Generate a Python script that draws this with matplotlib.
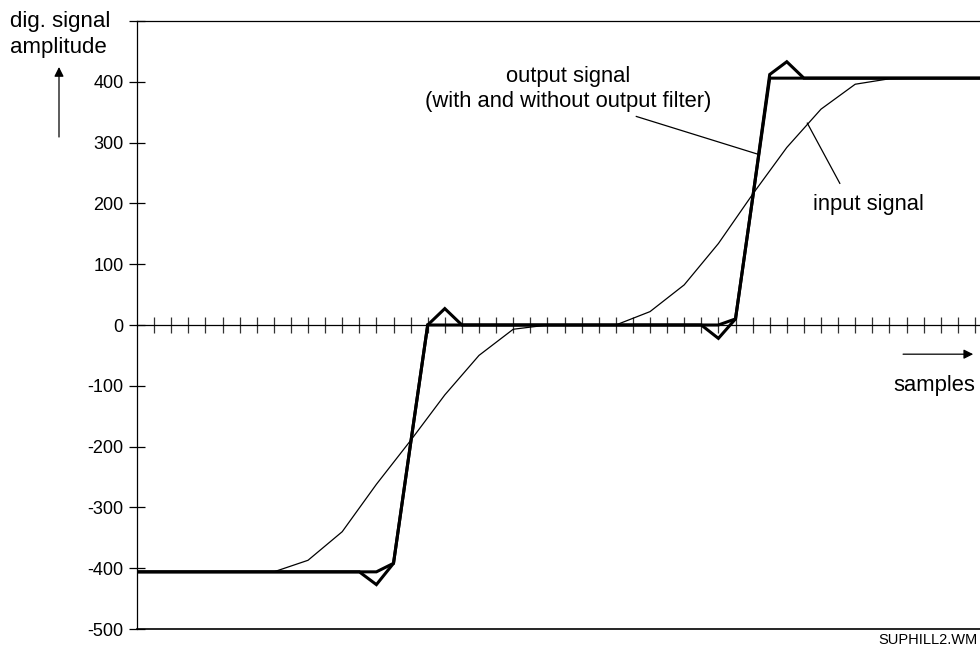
import matplotlib.pyplot as plt
import numpy as np

plt.rcParams['font.family'] = ['Liberation Sans', 'DejaVu Sans']

# sample index of every output value
out_n = list(range(51))
out_plain = [-406, -406, -406, -406, -406, -406, -406, -406, -406, -406,
             -406, -406, -406, -406, -406, -392, -195, 0, 0, 0,
             0, 0, 0, 0, 0, 0, 0, 0, 0, 0,
             0, 0, 0, 0, 0, 10, 208, 406, 406, 406,
             406, 406, 406, 406, 406, 406, 406, 406, 406, 406, 406]
out_filt = [-406, -406, -406, -406, -406, -406, -406, -406, -406, -406,
            -406, -406, -406, -406, -427, -392, -195, 0, 27, 0,
            0, 0, 0, 0, 0, 0, 0, 0, 0, 0,
            0, 0, 0, 0, -22, 10, 208, 412, 433, 406,
            406, 406, 406, 406, 406, 406, 406, 406, 406, 406, 406]

# input signal is known on every second sample
in_n = [0, 2, 4, 6, 8, 10, 12, 14, 16, 18, 20, 22, 24, 26, 28, 30, 32, 34, 36,
        38, 40, 42, 44, 46, 48, 50]
in_val = [-406, -406, -406, -406, -406, -387, -340, -262, -190, -115, -50, -7, 0,
          0, 0, 22, 66, 134, 215, 292, 355, 396, 405, 406, 406, 406]

yticks = [-500, -400, -300, -200, -100, 0, 100, 200, 300, 400, 500]
ylabels = ['-500', '-400', '-300', '-200', '-100', '0', '100', '200', '300', '400', '']

W, H = 980, 648
fig = plt.figure(figsize=(W / 100, H / 100), dpi=100)
# axis box runs past the right edge of the sheet
ax = fig.add_axes([137 / W, 19 / H, 50 * 17.1 / W, 608 / H])
ax.set_xlim(0, 50)
ax.set_ylim(-500, 500)

ax.plot(in_n, in_val, color='black', lw=0.9, zorder=3)
ax.plot(out_n, out_filt, color='black', lw=2.2, zorder=4, solid_joinstyle='miter')
ax.plot(out_n, out_plain, color='black', lw=2.2, zorder=4, solid_joinstyle='miter')

ax.spines['right'].set_visible(False)
ax.spines['bottom'].set_position(('data', 0))
for s in ['top', 'left', 'bottom']:
    ax.spines[s].set_linewidth(0.9)
ax.axhline(-500, color='black', lw=1.2, clip_on=False)

ax.set_xticks(range(1, 51))
ax.set_xticklabels([])
ax.tick_params(axis='x', direction='inout', length=11, width=0.9, color='#333333')
ax.set_yticks(yticks)
ax.set_yticklabels(ylabels)
ax.tick_params(axis='y', direction='inout', length=11, width=0.9, labelsize=13, pad=4)

ax.text(25.2, 409, 'output signal', ha='center', va='center', fontsize=15.8)
ax.text(25.2, 368, '(with and without output filter)', ha='center', va='center', fontsize=15.8)
ax.plot([29.2, 36.3], [343, 281], color='black', lw=0.9, zorder=5)

ax.text(42.75, 199, 'input signal', ha='center', va='center', fontsize=15.8)
ax.plot([39.2, 41.1], [332, 233], color='black', lw=0.9, zorder=5)

ax.text(46.6, -100, 'samples', ha='center', va='center', fontsize=15.8, clip_on=False)
ax.annotate('', xy=(48.9, -48), xytext=(44.8, -48),
            arrowprops=dict(arrowstyle='-|>', color='black', lw=0.9,
                            mutation_scale=14, shrinkA=0, shrinkB=0))

fig.text(10 / W, 1 - 27 / H, 'dig. signal', ha='left', va='baseline', fontsize=16)
fig.text(10 / W, 1 - 53 / H, 'amplitude', ha='left', va='baseline', fontsize=16)
ax.annotate('', xy=(59, H - 67), xytext=(59, H - 137), xycoords='figure pixels',
            textcoords='figure pixels',
            arrowprops=dict(arrowstyle='-|>', color='black', lw=0.9,
                            mutation_scale=14, shrinkA=0, shrinkB=0))

fig.text(978 / W, 1 - 640 / H, 'SUPHILL2.WM', ha='right', va='center', fontsize=10.5)

fig.savefig('out.png', dpi=100)
